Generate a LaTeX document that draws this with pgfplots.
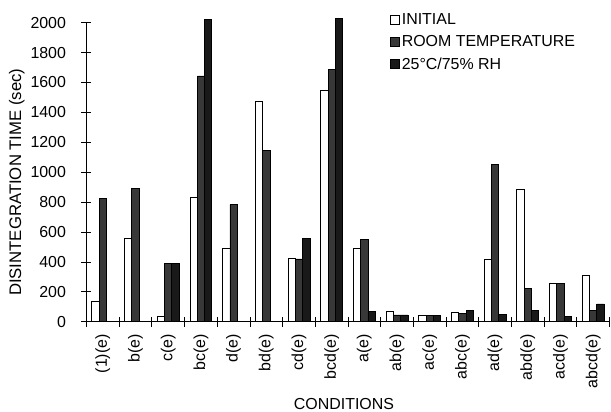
\documentclass[border=0pt]{standalone}
\usepackage{pgfplots}
\pgfplotsset{compat=1.18}
\usepackage{fontspec}
\setmainfont{Liberation Sans}
\definecolor{roomc}{gray}{0.22}
\definecolor{rhc}{gray}{0.10}
\begin{document}
\begin{tikzpicture}
\path[use as bounding box] (-86.5bp,-90.3bp) rectangle (524.5bp,321.7bp);
\begin{axis}[
  at={(0,0)}, anchor=south west,
  scale only axis, width=523bp, height=299bp,
  ybar=0pt, bar width=7.3bp,
  xmin=-0.5, xmax=15.5, ymin=0, ymax=2000,
  clip=false,
  axis x line=bottom, axis y line=left,
  axis line style={-, line width=0.9bp},
  tick align=center,
  major tick length=10bp, minor tick length=10bp,
  every tick/.style={black, line width=0.8bp},
  xtick={0,...,15},
  xticklabels={(1)(e),b(e),c(e),bc(e),d(e),bd(e),cd(e),bcd(e),a(e),ab(e),ac(e),abc(e),ad(e),abd(e),acd(e),abcd(e)},
  major x tick style={draw=none},
  minor xtick={-0.5,0.5,...,15.5},
  ytick={0,200,...,2000},
  /pgf/number format/assume math mode=true,
  /pgf/number format/1000 sep={},
  every tick label/.append style={font=\fontsize{16}{19}\selectfont},
  xticklabel style={rotate=90, anchor=east, xshift=-4bp},
  yticklabel style={xshift=-12bp},
  ylabel={DISINTEGRATION TIME (sec)},
  ylabel style={at={(axis description cs:0,0.5)}, anchor=center, yshift=69.8bp, xshift=-10bp, font=\fontsize{16.8}{19}\selectfont},
  xlabel={CONDITIONS},
  xlabel style={at={(axis description cs:0.5,0)}, anchor=base, yshift=-88bp, xshift=-4bp, font=\fontsize{16}{19}\selectfont},
  legend style={draw=none, fill=none, at={(axis description cs:0.580,1.038)}, anchor=north west,
    font=\fontsize{16}{19}\selectfont, row sep=5.5bp, inner sep=0pt,
    /tikz/every even column/.append style={column sep=2.5bp}},
  legend cell align=left,
  legend image code/.code={\draw[#1] (0bp,-4.5bp) rectangle (9bp,4.5bp);},
]
\addplot[draw=black, fill=white, line width=0.8bp] coordinates {
(0,134) (1,555) (2,36) (3,834) (4,488) (5,1476) (6,425) (7,1544)
(8,492) (9,67) (10,45) (11,65) (12,414) (13,884) (14,255) (15,313)};
\addplot[draw=black, fill=roomc, line width=0.8bp] coordinates {
(0,823) (1,893) (2,391) (3,1644) (4,783) (5,1145) (6,420) (7,1689)
(8,552) (9,45) (10,40) (11,58) (12,1051) (13,224) (14,255) (15,78)};
\addplot[draw=black, fill=rhc, line width=0.8bp] coordinates {
(2,391) (3,2020) (6,559) (7,2030)
(8,67) (9,45) (10,40) (11,78) (12,51) (13,78) (14,38) (15,119)};
\legend{INITIAL, ROOM TEMPERATURE, 25°C/75\% RH}
\end{axis}
\end{tikzpicture}
\end{document}
